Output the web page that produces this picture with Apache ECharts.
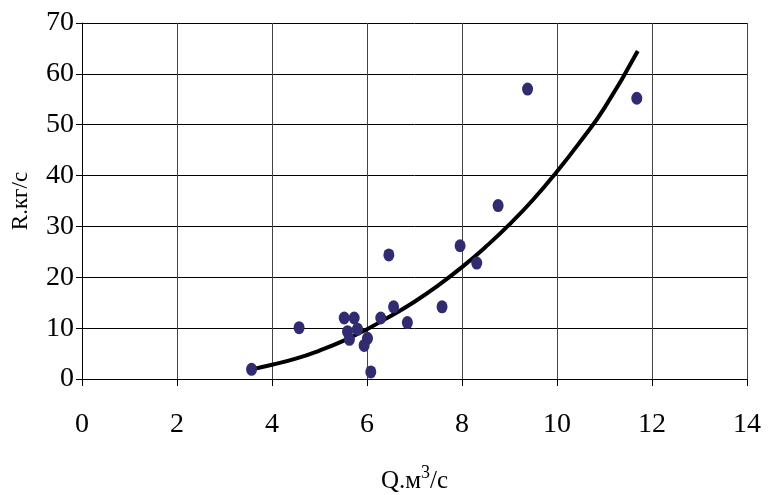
<!DOCTYPE html>
<html>
<head>
<meta charset="utf-8">
<script src="https://cdn.jsdelivr.net/npm/echarts@6/dist/echarts.min.js"></script>
<style>
  html, body { margin: 0; padding: 0; background: #fff; }
  #main { width: 768px; height: 495px; }
</style>
</head>
<body>
<div id="main"></div>
<script>
// measured points (Q, R)
var pointQ = [3.57, 4.57, 5.52, 5.73, 5.59, 5.80, 5.63, 6.01, 5.94, 6.08, 6.29, 6.46, 6.56, 6.85, 7.58, 7.96, 8.31, 8.76, 9.38, 11.68];
var pointR = [1.9, 10.1, 12.0, 12.0, 9.3, 9.8, 7.8, 8.0, 6.6, 1.4, 12.0, 24.4, 14.2, 11.1, 14.2, 26.2, 22.8, 34.1, 57.0, 55.2];

// trend line
var trendQ = [3.57, 4, 4.5, 5, 5.5, 6, 6.5, 7, 7.5, 8, 8.5, 9, 9.5, 10, 10.5, 11, 11.7];
var trendR = [1.9, 2.8, 4.0, 5.6, 7.5, 9.8, 12.4, 15.2, 18.4, 22.0, 26.0, 30.4, 35.3, 40.8, 46.8, 53.3, 64.5];

var xTicks = [0, 2, 4, 6, 8, 10, 12, 14];
var yTicks = [0, 10, 20, 30, 40, 50, 60, 70];

var pts = pointQ.map(function (q, i) { return [q, pointR[i]]; });
var line = trendQ.map(function (q, i) { return [q, trendR[i]]; });

var font = 'Liberation Serif';
var chart = echarts.init(document.getElementById('main'));
chart.setOption({
  animation: false,
  grid: { left: 82, right: 21, top: 23, bottom: 116, containLabel: false, outerBoundsMode: 'none' },
  xAxis: {
    type: 'value',
    min: xTicks[0], max: xTicks[xTicks.length - 1], interval: 2,
    name: 'Q.м{s|3}/с',
    nameLocation: 'middle',
    nameGap: 85,
    nameTextStyle: {
      fontFamily: font, fontSize: 25, color: '#000',
      rich: { s: { fontFamily: font, fontSize: 18, verticalAlign: 'top', padding: [0, 0, 16, 0] } }
    },
    axisLine: { lineStyle: { color: '#000', width: 1 } },
    axisTick: { show: true, length: 7, lineStyle: { color: '#000' } },
    axisLabel: { fontFamily: font, fontSize: 28, color: '#000', margin: 32 },
    splitLine: { show: true, lineStyle: { color: '#444', width: 1 } }
  },
  yAxis: {
    type: 'value',
    min: yTicks[0], max: yTicks[yTicks.length - 1], interval: 10,
    name: 'R.кг/с',
    nameLocation: 'middle',
    nameGap: 50,
    nameTextStyle: { fontFamily: font, fontSize: 23, color: '#000' },
    axisLine: { show: true, lineStyle: { color: '#000', width: 1 } },
    axisTick: { show: true, length: 6, lineStyle: { color: '#000' } },
    axisLabel: { fontFamily: font, fontSize: 28, color: '#000', margin: 8 },
    splitLine: { show: true, lineStyle: { color: '#000', width: 1 } }
  },
  series: [
    {
      type: 'line',
      data: line,
      smooth: true,
      showSymbol: false,
      lineStyle: { color: '#000', width: 4 },
      z: 2
    },
    {
      type: 'scatter',
      data: pts,
      symbol: 'circle',
      symbolSize: [11, 13],
      itemStyle: { color: '#312c70', opacity: 1 },
      z: 3
    }
  ]
});
</script>
</body>
</html>
